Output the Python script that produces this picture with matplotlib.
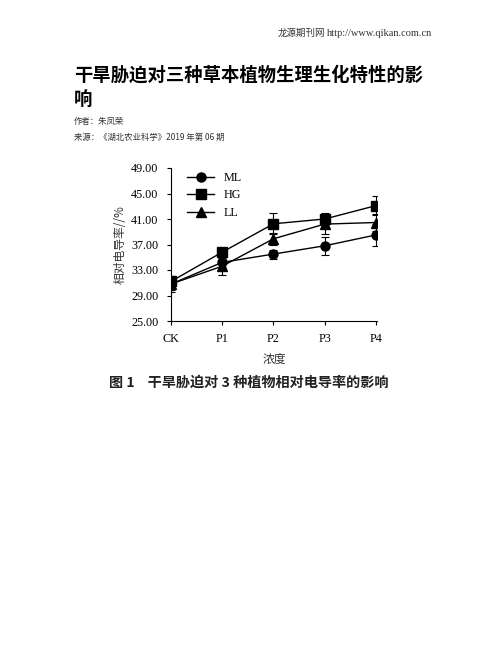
import matplotlib
matplotlib.use("Agg")
import matplotlib.pyplot as plt
from matplotlib.lines import Line2D
import numpy as np

# Data
CATEGORIES = ["CK", "P1", "P2", "P3", "P4"]
ML = [30.8, 34.2, 35.5, 36.8, 38.5]
ML_ERR = [1.2, 0.7, 0.7, 1.4, 1.7]
HG = [31.2, 35.8, 40.25, 41.0, 43.1]
HG_ERR = [0.6, 0.5, 1.65, 0.9, 1.5]
LL = [30.8, 33.6, 37.9, 40.2, 40.45]
LL_ERR = [0.9, 1.4, 0.9, 1.6, 1.3]
Y_TICKS = [25, 29, 33, 37, 41, 45, 49]

SERIF = ["Liberation Serif", "Noto Sans CJK SC"]
CJK = ["Noto Sans CJK SC", "DejaVu Sans"]

fig = plt.figure(figsize=(5.02, 6.49), dpi=100)

# page texts
fig.text(325 / 502, 1 - 33 / 649, "龙源期刊网", family=CJK, fontsize=6.8,
         ha="right", va="center", color="#333333")
fig.text(327 / 502, 1 - 33 / 649, "http://www.qikan.com.cn", family=SERIF,
         fontsize=7.5, ha="left", va="center", color="#333333")
fig.text(74 / 502, 1 - 75 / 649, "干旱胁迫对三种草本植物生理生化特性的影",
         family=CJK, fontsize=13.2, fontweight="bold", ha="left", va="center")
fig.text(74 / 502, 1 - 100 / 649, "响", family=CJK, fontsize=13.2,
         fontweight="bold", ha="left", va="center")
fig.text(74 / 502, 1 - 121 / 649, "作者：朱凤荣", family=CJK, fontsize=6,
         ha="left", va="center", color="#333333")
fig.text(74 / 502, 1 - 137 / 649, "来源：《湖北农业科学》2019 年第 06 期",
         family=CJK, fontsize=6, ha="left", va="center", color="#333333")

ax = fig.add_axes([171 / 502, 1 - 321 / 649, 206 / 502, 153 / 649])
x = np.arange(len(CATEGORIES))

series = [("ML", ML, ML_ERR, "o"), ("HG", HG, HG_ERR, "s"), ("LL", LL, LL_ERR, "^")]
handles = []
for name, vals, errs, mk in series:
    ax.errorbar(x, vals, yerr=errs, marker=mk, color="black", linewidth=1.0,
                elinewidth=0.8, capsize=3, capthick=0.8, markersize=6.5)
    handles.append(Line2D([], [], color="black", linewidth=1.0, marker=mk,
                          markersize=6.5, label=name))

ax.set_xlim(0, 4.02)
ax.set_ylim(25, 49)
ax.set_yticks(Y_TICKS)
ax.set_yticklabels([f"{v:.2f}" for v in Y_TICKS], family=SERIF, fontsize=8.7)
ax.set_xticks(x)
ax.set_xticklabels(CATEGORIES, family=SERIF, fontsize=8.7)
ax.spines["top"].set_visible(False)
ax.spines["right"].set_visible(False)
for s in ("left", "bottom"):
    ax.spines[s].set_linewidth(0.8)
ax.tick_params(direction="out", length=3, width=0.8, pad=6)
ax.set_ylabel("相对电导率//%", family=CJK, fontsize=8.5, labelpad=3,
              color="#333333")
ax.set_xlabel("浓度", family=CJK, fontsize=8.5, labelpad=5, color="#333333")

ax.legend(handles=handles, loc="upper left", frameon=False,
          prop={"family": SERIF, "size": 8.7}, handlelength=2.3,
          labelspacing=0.45, borderaxespad=0.3, bbox_to_anchor=(0.035, 1.03))

fig.text(249 / 502, 1 - 383 / 649, "图 1    干旱胁迫对 3 种植物相对电导率的影响",
         family=CJK, fontsize=10.2, fontweight="bold", ha="center", va="center",
         color="#222222")

fig.savefig("out.png", dpi=100)
